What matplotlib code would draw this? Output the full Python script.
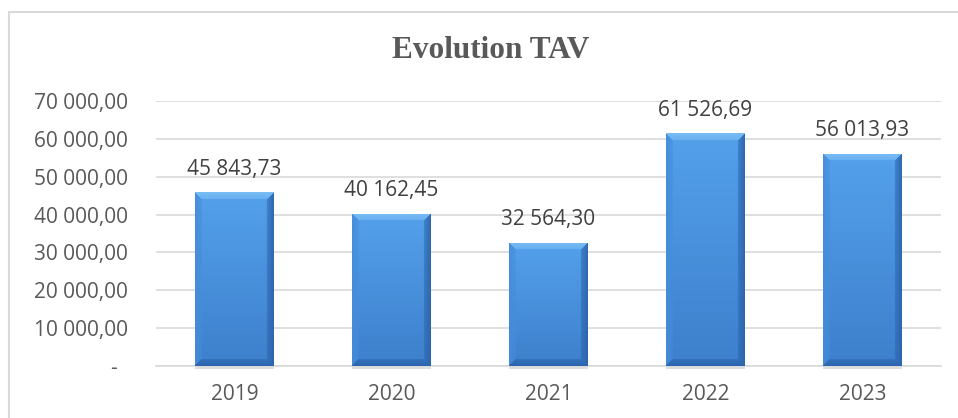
import numpy as np
import matplotlib.pyplot as plt
from matplotlib.patches import Rectangle
from matplotlib.transforms import ScaledTranslation

years = ["2019", "2020", "2021", "2022", "2023"]
tav = [45843.73, 40162.45, 32564.30, 61526.69, 56013.93]
yticks = [0, 10000, 20000, 30000, 40000, 50000, 60000, 70000]
title = "Evolution TAV"

GRAY = "#595959"
GRID = "#D9D9D9"


def fr(v):
  # french style number: 45 843,73
  if v == 0:
    return "-"
  return "{:,.2f}".format(v).replace(",", " ").replace(".", ",")


def bevelImage(w, h, b=7):
  """rgb image of a bevelled bar, w x h pixels"""
  w = max(int(w), 2 * b + 2)
  h = max(int(h), 2 * b + 2)
  top = np.array([0.33, 0.63, 0.92])
  bot = np.array([0.24, 0.50, 0.80])
  t = np.linspace(0, 1, h)[:, None, None]
  img = top * (1 - t) + bot * t
  img = np.repeat(img, w, axis=1)

  ii, jj = np.mgrid[0:h, 0:w]
  dt, db = ii, h - 1 - ii
  dl, dr = jj, w - 1 - jj
  d = np.stack([dt, db, dl, dr])
  side = d.argmin(axis=0)
  dmin = d.min(axis=0)
  inb = dmin < b
  f = (1 - 0.5 * dmin / b)[..., None]
  light = np.array([0.50, 0.76, 0.97])
  dark = np.array([0.16, 0.38, 0.66])
  left = np.array([0.27, 0.55, 0.86])
  tints = {0: light, 1: dark, 2: left, 3: dark}
  for k, col in tints.items():
    m = (inb & (side == k))[..., None]
    img = np.where(m, img * (1 - 0.85 * f) + col * 0.85 * f, img)
  return np.clip(img, 0, 1)


fig = plt.figure(figsize=(9.58, 4.18), dpi=100)
plt.rcParams["font.family"] = ["Open Sans", "DejaVu Sans"]
ax = fig.add_axes([156 / 958, 1 - 366 / 418, 785 / 958, 265 / 418])

x = np.arange(len(years))
ax.set_xlim(-0.5, len(years) - 0.5)
ax.set_ylim(0, 70000)
ax.set_yticks(yticks)
ax.set_yticklabels([fr(v) for v in yticks])
ax.set_xticks(x)
ax.set_xticklabels(years)
ax.tick_params(length=0, labelsize=15, labelcolor=GRAY)
ax.tick_params(axis="y", pad=20)
ax.tick_params(axis="x", pad=13)
ax.grid(axis="y", color=GRID, linewidth=1.2)
ax.set_axisbelow(True)
for s in ["top", "right", "left"]:
  ax.spines[s].set_visible(False)
ax.spines["bottom"].set_color(GRID)
ax.spines["bottom"].set_linewidth(1.2)

# dash for zero sits left of the decimals
zl = ax.get_yticklabels()[0]
zl.set_transform(zl.get_transform() + ScaledTranslation(-0.11, 0, fig.dpi_scale_trans))

bars = ax.bar(x, tav, width=0.5, color="#3F86D0", zorder=2)
pxPerX = 785 / len(years)
pxPerY = 265 / 70000
for xi, v, bar in zip(x, tav, bars):
  # soft shadow under the bar
  ax.add_patch(Rectangle((xi - 0.25, -900), 0.5, 900, facecolor="#BFBFBF",
                         alpha=0.5, edgecolor="none", zorder=1.5, clip_on=False))
  img = bevelImage(0.5 * pxPerX, v * pxPerY)
  im = ax.imshow(img, extent=(xi - 0.25, xi + 0.25, 0, v), aspect="auto",
                 zorder=3, interpolation="bilinear")
  im.set_clip_path(bar)
  ax.annotate(fr(v), (xi, v), xytext=(0, 9), textcoords="offset points",
              ha="center", va="bottom", fontsize=15, color="#404040")

ax.set_xlim(-0.5, len(years) - 0.5)
ax.set_ylim(0, 70000)

fig.text(491 / 958, 1 - 50 / 418, title, ha="center", va="center",
         fontsize=22.5, fontweight="bold", color=GRAY, family="Liberation Serif")

fig.patches.append(Rectangle((9 / 958, -0.1), 1.2, 1.1 - 12 / 418,
                             transform=fig.transFigure, facecolor="none",
                             edgecolor=GRID, linewidth=1.5))

fig.savefig("out.png", dpi=100)
